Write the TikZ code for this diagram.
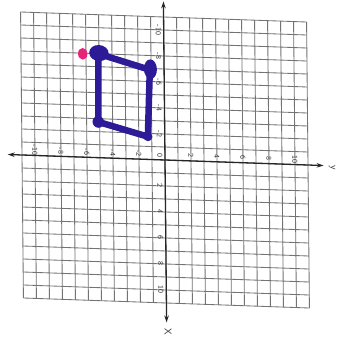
\documentclass[tikz,border=0pt]{standalone}
\usetikzlibrary{arrows.meta}
\definecolor{mblue}{RGB}{44,26,150}
\definecolor{mpink}{RGB}{232,36,122}
\begin{document}
\begin{tikzpicture}[x=1bp,y=1bp,
  gridline/.style={draw=black!55, line width=0.85bp},
  axisline/.style={draw=black!85, line width=1.3bp, {Stealth[length=7bp,width=4.5bp]}-{Stealth[length=7bp,width=4.5bp]}},
  lab/.style={font=\sffamily\fontsize{7.5}{7.5}\selectfont, text=black!80, rotate=-90, inner sep=0pt},
  axlab/.style={font=\sffamily\fontsize{10}{10}\selectfont, text=black!80, rotate=-90, inner sep=0pt},
  marker/.style={draw=mblue, line width=6.5bp, line cap=round, line join=round},
  blob/.style={fill=mblue}]
\fill[white] (0,0) rectangle (340,339);
\useasboundingbox (0,0) rectangle (340,339);
\begin{scope}[cm={1,-0.035,-0.01,1,(165,179)}, x={(0bp,-13bp)}, y={(13bp,0bp)}]
  % grid
  \foreach \i in {-11,...,11} {
    \draw[gridline] (\i,-11) -- (\i,11);
    \draw[gridline] (-11,\i) -- (11,\i);
  }
  % axes
  \coordinate (xtop) at (-12.2,0);
  \coordinate (xbot) at (12.5,0);
  \coordinate (yleft) at (0,-12.1);
  \coordinate (yright) at (0,12.2);
  \draw[axisline] (xtop) -- (xbot);
  \draw[axisline] (yleft) -- (yright);
  \node[axlab] (xname) at (13.25,0.1) {X};
  \node[axlab] (yname) at (0.15,12.85) {y};
  % tick labels
  \foreach \v [count=\k] in {-10,-8,-6,-4,-2,2,4,6,8,10} {
    \node[lab] (xl\k) at (\v,-0.42) {\v};
    \node[lab] (yl\k) at (-0.42,\v) {\v};
  }
  \node[lab] (zero) at (-0.35,-0.4) {0};
  % plotted figure
  \coordinate (P) at (-7.95,-6.25);
  \coordinate (A) at (-8,-5.05);
  \coordinate (B) at (-6.9,-1.1);
  \coordinate (C) at (-1.75,-1.3);
  \coordinate (D) at (-2.75,-5.1);
  \fill[mpink] (P) ellipse [x radius=0.45, y radius=0.36];
  \draw[marker] (A) -- (B) -- (C) -- (D) -- cycle;
  \fill[blob] (-8.05,-5.0) ellipse [x radius=0.62, y radius=0.75];
  \fill[blob] (-6.95,-1.05) ellipse [x radius=0.75, y radius=0.5];
  \fill[blob] (D) circle [radius=0.45];
  \fill[blob] (C) circle [radius=0.35];
\end{scope}
\end{tikzpicture}
\end{document}
